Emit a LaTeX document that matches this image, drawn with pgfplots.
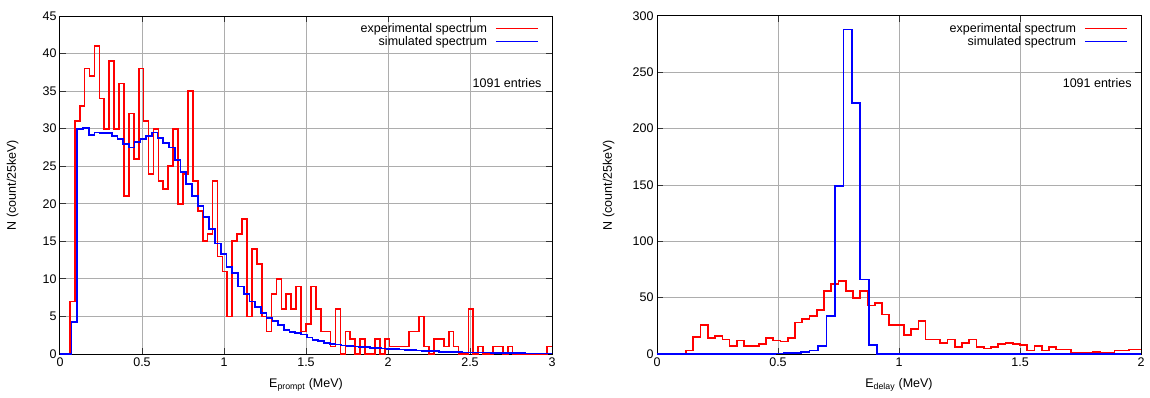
\documentclass[border=0pt]{standalone}
\usepackage{fontspec}
\setmainfont{Liberation Sans}
\usepackage{pgfplots}
\pgfplotsset{compat=1.18}
\definecolor{expred}{RGB}{255,0,0}
\definecolor{simblue}{RGB}{0,0,255}
\newcommand{\fs}{\fontsize{12.5}{14}\selectfont}
\begin{document}
\begin{tikzpicture}[x=1pt,y=1pt]
\useasboundingbox (0,0) rectangle (1150,397);
\pgfplotsset{
  hist/.style={
    scale only axis, height=338pt,
    axis line style={black, line width=1pt},
    grid=major, grid style={black!32, line width=1pt},
    tick align=inside, major tick length=6pt, tick style={black!80, line width=1pt},
    ticklabel style={font=\fs},
    label style={font=\fs},
    /pgf/number format/assume math mode=true,
    ymin=0,
    legend plot pos=right, legend cell align=right,
    legend style={draw=none, fill=none, font=\fs, row sep=-1.5pt,
      at={(axis description cs:1,1)}, anchor=north east, xshift=-10pt, yshift=-3pt},
    legend image code/.code={\path (0pt,0pt); \draw[#1] (6pt,0pt) -- (48pt,0pt);},
    ylabel={N (count/25keV)},
    ylabel style={rotate=0, anchor=center},
    exp/.style={draw=expred, line width=1.7pt, const plot, mark=none},
    sim/.style={draw=simblue, line width=1.7pt, const plot, mark=none},
  }
}
% ---------------- left panel ----------------
\begin{axis}[hist, at={(60pt,43pt)}, anchor=south west, width=492pt,
  xmin=0, xmax=3, ymax=45,
  xtick={0,0.5,1,1.5,2,2.5,3}, ytick={0,5,10,15,20,25,30,35,40,45},
  xlabel={E\textsubscript{prompt} (MeV)},
  xlabel style={at={(axis description cs:0.5,-0.092)}, anchor=center},
  ylabel style={at={(axis description cs:-0.0965,0.5)}},
]
\addplot[exp] coordinates {
(0,0) (0.03,0) (0.06,7) (0.09,31) (0.12,33) (0.15,38) (0.18,37) (0.21,41) (0.24,34) (0.27,30)
(0.30,39) (0.33,30) (0.36,36) (0.39,21) (0.42,32) (0.45,26) (0.48,38) (0.51,31) (0.54,24) (0.57,30)
(0.60,23) (0.63,22) (0.66,25) (0.69,30) (0.72,20) (0.75,24) (0.78,35) (0.81,23) (0.84,19) (0.87,15)
(0.90,16) (0.93,23) (0.96,13) (0.99,11) (1.02,5) (1.05,15) (1.08,16) (1.11,18) (1.14,5) (1.17,14)
(1.20,12) (1.23,5) (1.26,3) (1.29,8) (1.32,10) (1.35,6) (1.38,8) (1.41,6) (1.44,9) (1.47,3)
(1.50,4) (1.53,9) (1.56,6) (1.59,3) (1.62,3) (1.65,1) (1.68,6) (1.71,0) (1.74,3) (1.77,2)
(1.80,0) (1.83,2) (1.86,0) (1.89,0) (1.92,2) (1.95,0) (1.98,2) (2.01,1) (2.04,1) (2.07,1)
(2.10,1) (2.13,3) (2.16,3) (2.19,5) (2.22,1) (2.25,0) (2.28,2) (2.31,2) (2.34,1) (2.37,3)
(2.40,1) (2.43,0) (2.46,0) (2.49,6) (2.52,0) (2.55,1) (2.58,0) (2.61,0) (2.64,1) (2.67,1)
(2.70,0) (2.73,1) (2.76,0) (2.79,0) (2.82,0) (2.85,0) (2.88,0) (2.91,0) (2.94,0) (2.97,1) (3.00,1)
};
\addlegendentry{experimental spectrum}
\addplot[sim] coordinates {
(0,0) (0.07,4.3) (0.105,30.0) (0.14,30.1) (0.175,29.2) (0.21,29.5) (0.245,29.4) (0.28,29.4)
(0.315,29.0) (0.35,28.6) (0.385,28.0) (0.42,27.5) (0.455,28.2) (0.49,28.6) (0.525,29.0) (0.56,29.5)
(0.595,28.8) (0.63,28.1) (0.665,27.5) (0.70,25.8) (0.735,24.2) (0.77,22.6) (0.805,21.0) (0.84,19.7)
(0.875,18.2) (0.91,16.6) (0.945,14.7) (0.98,13.3) (1.015,11.6) (1.05,10.8) (1.085,9.0) (1.12,8.0)
(1.155,7.0) (1.19,6.3) (1.225,5.5) (1.26,4.8) (1.295,4.4) (1.33,3.9) (1.365,3.2) (1.40,2.9)
(1.435,2.8) (1.47,2.6) (1.505,2.2) (1.54,1.9) (1.575,1.7) (1.61,1.5) (1.645,1.35) (1.68,1.25)
(1.715,1.15) (1.75,1.1) (1.785,1.0) (1.82,0.95) (1.855,0.9) (1.89,0.8) (1.925,0.8) (1.96,0.75)
(1.995,0.7) (2.03,0.65) (2.065,0.6) (2.10,0.55) (2.135,0.5) (2.17,0.45) (2.205,0.42) (2.24,0.42)
(2.275,0.4) (2.31,0.3) (2.345,0.3) (2.38,0.3) (2.415,0.3) (2.45,0.2) (2.485,0.2) (2.52,0.2)
(2.555,0.2) (2.59,0.2) (2.625,0.12) (2.66,0.12) (2.695,0.12) (2.73,0.12) (2.765,0.12) (2.80,0.12)
(2.835,0.08) (2.87,0.08) (2.905,0.08) (2.94,0.08) (2.975,0.08) (3.0,0.08)
};
\addlegendentry{simulated spectrum}
\node[anchor=east, font=\fs, inner sep=0pt] at (axis description cs:0.979,0.801) {1091 entries};
\end{axis}
% ---------------- right panel ----------------
\begin{axis}[hist, at={(657pt,43pt)}, anchor=south west, width=484pt,
  xmin=0, xmax=2, ymax=300,
  xtick={0,0.5,1,1.5,2}, ytick={0,50,100,150,200,250,300},
  xlabel={E\textsubscript{delay} (MeV)},
  xlabel style={at={(axis description cs:0.5,-0.092)}, anchor=center},
  ylabel style={at={(axis description cs:-0.1,0.5)}},
]
\addplot[exp] coordinates {
(0,0) (0.12,3) (0.15,15) (0.18,26) (0.21,14) (0.24,16) (0.27,13) (0.30,7) (0.33,12) (0.36,7)
(0.39,7) (0.42,9) (0.45,14) (0.48,12) (0.51,11) (0.54,14) (0.57,28) (0.60,31) (0.63,34) (0.66,39)
(0.69,56) (0.72,62) (0.75,65) (0.78,56) (0.81,50) (0.84,56) (0.87,43) (0.90,45) (0.93,35) (0.96,26)
(0.99,26) (1.02,17) (1.05,22) (1.08,29) (1.11,13) (1.14,13) (1.17,10) (1.20,13) (1.23,6) (1.26,10)
(1.29,13) (1.32,6) (1.35,5) (1.38,6) (1.41,9) (1.44,10) (1.47,9) (1.50,8) (1.53,3) (1.56,7)
(1.59,3) (1.62,6) (1.65,4) (1.68,4) (1.71,1) (1.74,1) (1.77,1) (1.80,2) (1.83,1) (1.86,1)
(1.89,3) (1.92,3) (1.95,4) (1.98,4) (2.0,4)
};
\addlegendentry{experimental spectrum}
\addplot[sim] coordinates {
(0,0) (0.455,0.3) (0.49,0.5) (0.525,0.7) (0.56,1) (0.595,1.5) (0.63,3) (0.665,7) (0.70,34)
(0.735,149) (0.77,288) (0.805,223) (0.84,66) (0.875,8) (0.91,0) (2.0,0)
};
\addlegendentry{simulated spectrum}
\node[anchor=east, font=\fs, inner sep=0pt] at (axis description cs:0.981,0.801) {1091 entries};
\end{axis}
\end{tikzpicture}
\end{document}
